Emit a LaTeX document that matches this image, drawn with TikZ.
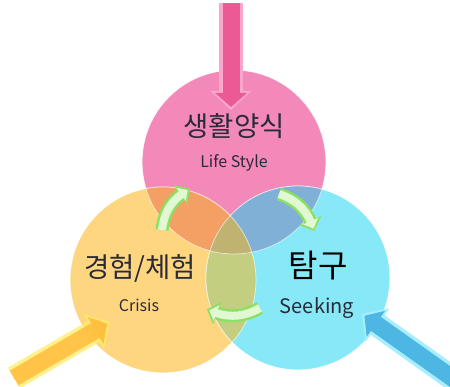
\documentclass[tikz,border=0pt]{standalone}
\usepackage{fontspec}
\setmainfont{Noto Sans CJK KR}
\usepackage{tikz}
\usetikzlibrary{arrows.meta,bending}
\definecolor{lifepink}{HTML}{F289B9}
\definecolor{crisisyel}{HTML}{FFD680}
\definecolor{seekcyan}{HTML}{87E8F8}
\definecolor{pinkyel}{HTML}{F4A064}
\definecolor{pinkcyan}{HTML}{80B0D6}
\definecolor{yelcyan}{HTML}{C4CE80}
\definecolor{allthree}{HTML}{C0B270}
\definecolor{pinkarr}{HTML}{EC5A95}
\definecolor{pinkglow}{HTML}{F9A8CC}
\definecolor{yelarr}{HTML}{FFBC3C}
\definecolor{yelglow}{HTML}{FFEE70}
\definecolor{bluearr}{HTML}{4DB6E2}
\definecolor{blueglow}{HTML}{A8EEFF}
\definecolor{cycfill}{HTML}{E2F8D2}
\definecolor{cycedge}{HTML}{8CE064}
\definecolor{textcol}{HTML}{2A2A38}
\tikzset{
  venn/.style = {circle, inner sep=0pt, draw=white, line width=0.8pt,
    draw opacity=0.6},% circle of the diagram
  ko_t/.style = {inner sep=0pt, text=textcol,
    font=\fontsize{27.5}{30}\selectfont},% korean title
  en_t/.style = {inner sep=0pt, text=textcol,
    font=\fontsize{16}{18}\selectfont},% english subtitle
  arr_glow/.style = {line width=24pt, -{Triangle[length=19pt,width=40pt]}},% big arrow, edge
  arr_body/.style = {line width=17pt, shorten >=3pt,
    -{Triangle[length=14pt,width=31pt]}},% big arrow, body
  cyc_glow/.style = {cycedge, line width=13pt,
    -{Triangle[bend,length=11pt,width=23pt]}},% cycle arrow, edge
  cyc_body/.style = {cycfill, line width=8pt, shorten >=2.5pt,
    -{Triangle[bend,length=8pt,width=16pt]}}% cycle arrow, body
}

\begin{document}
\begin{tikzpicture}[x=1pt,y=1pt]
\useasboundingbox (0,0) rectangle (450,387);

\node [venn, fill=lifepink, minimum size=184pt] (life) at (234,225) {};
\node [venn, fill=crisisyel, minimum size=186pt] (crisis) at (163,107) {};
\node [venn, fill=seekcyan, minimum size=184pt] (seek) at (298,109) {};

% overlaps
\begin{scope}
  \clip (life.center) circle (92pt);
  \fill [pinkyel] (crisis.center) circle (93pt);
  \fill [pinkcyan] (seek.center) circle (92pt);
\end{scope}
\begin{scope}
  \clip (crisis.center) circle (93pt);
  \fill [yelcyan] (seek.center) circle (92pt);
  \clip (seek.center) circle (92pt);
  \fill [allthree] (life.center) circle (92pt);
\end{scope}
\foreach \c/\r in {life/92,crisis/93,seek/92}
  \draw [white, opacity=0.6, line width=0.8pt] (\c.center) circle (\r pt);

% labels
\node [ko_t] (life-ko) at (234,261) {생활양식};
\node [en_t] (life-en) at (234,224) {Life Style};
\node [ko_t] (crisis-ko) at (140,119) {경험/체험};
\node [en_t] (crisis-en) at (139,82) {Crisis};
\node [ko_t, text=black, font=\fontsize{32}{34}\selectfont] (seek-ko) at (318,121) {탐구};
\node [en_t, font=\fontsize{20}{22}\selectfont] (seek-en) at (317,79) {Seeking};

% cycle arrows
\coordinate (c1a) at (162,157); \coordinate (c1b) at (190,198);
\coordinate (c2a) at (279,193); \coordinate (c2b) at (314,156);
\coordinate (c3a) at (260,79);  \coordinate (c3b) at (207,78);
\foreach \a/\b in {c1a/c1b,c2a/c2b,c3a/c3b} {
  \draw [cyc_glow] (\a) to [bend left=28] (\b);
  \draw [cyc_body] (\a) to [bend left=28] (\b);
}

% input arrows
\coordinate (life-in) at (231,384); \coordinate (life-tip) at (231,277);
\coordinate (crisis-in) at (14,9);  \coordinate (crisis-tip) at (110,65);
\coordinate (seek-in) at (462,2);   \coordinate (seek-tip) at (362,73);
\draw [arr_glow, pinkglow] (life-in) -- (life-tip);
\draw [arr_body, pinkarr] (life-in) -- (life-tip);
\draw [arr_glow, yelglow, opacity=0.8] (crisis-in) -- (crisis-tip);
\draw [arr_body, yelarr, opacity=0.85] (crisis-in) -- (crisis-tip);
\draw [arr_glow, blueglow] (seek-in) -- (seek-tip);
\draw [arr_body, bluearr] (seek-in) -- (seek-tip);
\end{tikzpicture}
\end{document}
